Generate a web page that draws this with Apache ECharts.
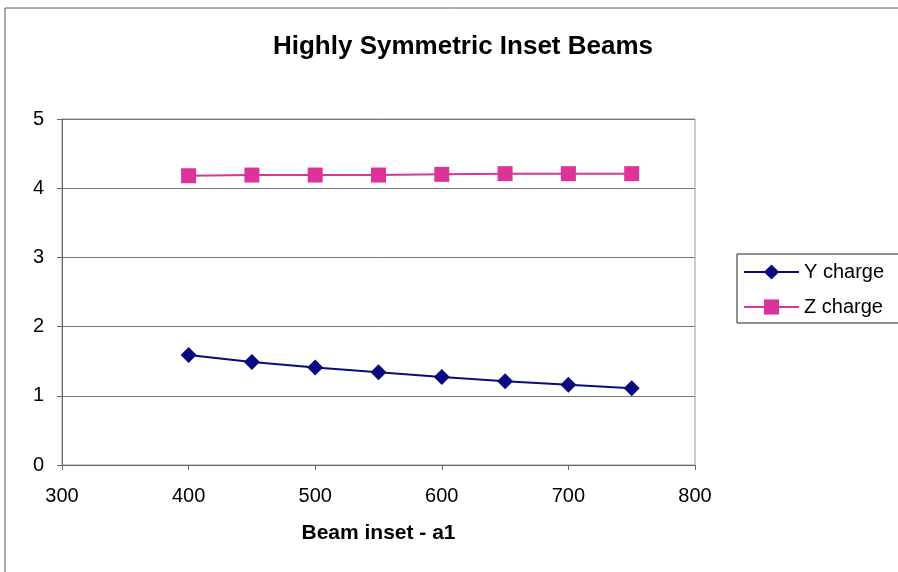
<!DOCTYPE html>
<html><head><meta charset="utf-8">
<script src="https://cdn.jsdelivr.net/npm/echarts@6/dist/echarts.min.js"></script>
<style>html,body{margin:0;padding:0;background:#fff}#c{width:898px;height:572px}</style>
</head><body><div id="c"></div>
<script>
const xValues = [400, 450, 500, 550, 600, 650, 700, 750];
const yCharge = [1.59, 1.49, 1.41, 1.34, 1.27, 1.21, 1.16, 1.11];
const zCharge = [4.18, 4.19, 4.19, 4.19, 4.20, 4.21, 4.21, 4.21];
const titleText = 'Highly Symmetric Inset Beams';
const xName = 'Beam inset - a1';

const chart = echarts.init(document.getElementById('c'));
const font = 'Liberation Sans, Arial, sans-serif';
chart.setOption({
  animation: false,
  backgroundColor: '#fff',
  title: { text: titleText, left: 458, top: 29, textAlign: 'center',
    textStyle: { fontFamily: font, fontSize: 26, fontWeight: 'bold', color: '#000' } },
  grid: { left: 62, right: 203, top: 119, bottom: 107, show: true, borderColor: '#999', borderWidth: 1 },
  legend: {
    left: 737, top: 254, orient: 'vertical', itemGap: 15, itemWidth: 55, itemHeight: 19,
    padding: [8, 30, 6, 6], borderColor: '#222', borderWidth: 1,
    textStyle: { fontFamily: font, fontSize: 20, color: '#000' },
    data: ['Y charge', 'Z charge']
  },
  xAxis: {
    type: 'value', min: 300, max: 800, interval: 100,
    name: xName, nameLocation: 'middle', nameGap: 58,
    nameTextStyle: { fontFamily: font, fontSize: 21, fontWeight: 'bold', color: '#000' },
    axisLine: { onZero: false, lineStyle: { color: '#666' } },
    axisTick: { show: true, length: 5, lineStyle: { color: '#666' } },
    axisLabel: { fontFamily: font, fontSize: 20, color: '#000', margin: 21 },
    splitLine: { show: false }
  },
  yAxis: {
    type: 'value', min: 0, max: 5, interval: 1,
    axisLine: { show: true, lineStyle: { color: '#666' } },
    axisTick: { show: true, length: 5, lineStyle: { color: '#666' } },
    axisLabel: { fontFamily: font, fontSize: 20, color: '#000', margin: 18 },
    splitLine: { show: true, lineStyle: { color: '#777', width: 1 } }
  },
  series: [
    { name: 'Y charge', type: 'line', data: xValues.map((x, i) => [x, yCharge[i]]),
      symbol: 'diamond', symbolSize: 16, color: '#0a0a80',
      lineStyle: { color: '#0a0a80', width: 2 }, itemStyle: { color: '#0a0a80' } },
    { name: 'Z charge', type: 'line', data: xValues.map((x, i) => [x, zCharge[i]]),
      symbol: 'rect', symbolSize: 15, color: '#dd3399',
      lineStyle: { color: '#dd3399', width: 2 }, itemStyle: { color: '#dd3399' } }
  ],
  graphic: [
    { type: 'polyline', shape: { points: [[5, 572], [5, 8], [898, 8]] },
      style: { stroke: '#555', lineWidth: 1, fill: null } }
  ]
});
</script></body></html>
